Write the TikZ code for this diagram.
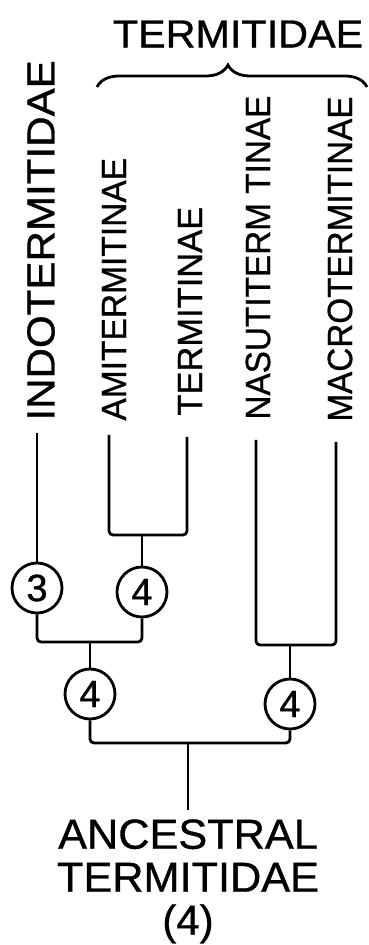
\documentclass[tikz,border=0pt]{standalone}
\usepackage{fontspec}
\setmainfont{Liberation Sans}
\newfontfamily\lettering[FakeBold=0.8]{Liberation Sans}
\usepackage{graphicx}
\usetikzlibrary{decorations.pathreplacing}

\begin{document}
\begin{tikzpicture}[x=1pt,y=1pt,line width=2.8pt,
    taxon/.style={rotate=90,anchor=west,inner sep=0pt,font=\lettering\fontsize{35}{35}\selectfont},
    tally/.style={draw,circle,minimum size=50pt,inner sep=0pt,font=\lettering\fontsize{38}{38}\selectfont},
    fork/.style={rounded corners=4pt}]
    \useasboundingbox (0,0) rectangle (369,945);

    % Branch tips
    \coordinate (indo) at (37,512);
    \coordinate (ami) at (109,510);
    \coordinate (term) at (187,508);
    \coordinate (nasu) at (256,505);
    \coordinate (macro) at (336,503);

    % Taxon names
    \node[taxon,font=\lettering\fontsize{39}{39}\selectfont] (indoname) at (41,523) {\scalebox{1.08}[1]{INDOTERMITIDAE}};
    \node[taxon] (aminame) at (114,523) {\scalebox{0.958}[1]{AMITERMITINAE}};
    \node[taxon] (termname) at (190,528) {\scalebox{0.985}[1]{TERMITINAE}};
    \node[taxon] (nasuname) at (258,524) {\scalebox{0.952}[1]{NASUTITERM TINAE}};
    \node[taxon] (macroname) at (340,522) {\scalebox{0.95}[1]{MACROTERMITINAE}};

    % Family brace
    \node[inner sep=0pt,font=\lettering\fontsize{39}{39}\selectfont] (family) at (238,911) {\scalebox{1.06}[1]{TERMITIDAE}};
    \draw[decorate,decoration={brace,amplitude=22pt,aspect=0.485}] (97,858) -- (367,858);

    % Counts
    \node[tally] (c3) at (37,357) {3};
    \node[tally] (c4a) at (142,353) {4};
    \node[tally] (c4b) at (90,251) {4};
    \node[tally] (c4c) at (290,241) {4};
    \node[align=center,inner xsep=0pt,inner ysep=8pt,anchor=north,
        font=\lettering\fontsize{42}{43}\selectfont] (anc) at (188,135)
        {\scalebox{1.03}[1]{ANCESTRAL}\\\scalebox{1.03}[1]{TERMITIDAE}\\(4)};

    % Branches
    \draw (indo) -- (c3.north);
    \draw[fork] (ami) -- (ami |- 0,410) -- (term |- 0,410) -- (term);
    \draw (c4a.north) -- (c4a.north |- 0,410);
    \draw[fork] (c3.south) -- (c3.south |- 0,303) -- (c4a.south |- 0,303) -- (c4a.south);
    \draw (c4b.north) -- (c4b.north |- 0,303);
    \draw[fork] (nasu) -- (nasu |- 0,300) -- (macro |- 0,300) -- (macro);
    \draw (c4c.north) -- (c4c.north |- 0,300);
    \draw[fork] (c4b.south) -- (c4b.south |- 0,202) -- (c4c.south |- 0,202) -- (c4c.south);
    \draw (anc.north) -- (anc.north |- 0,202);
\end{tikzpicture}
\end{document}
